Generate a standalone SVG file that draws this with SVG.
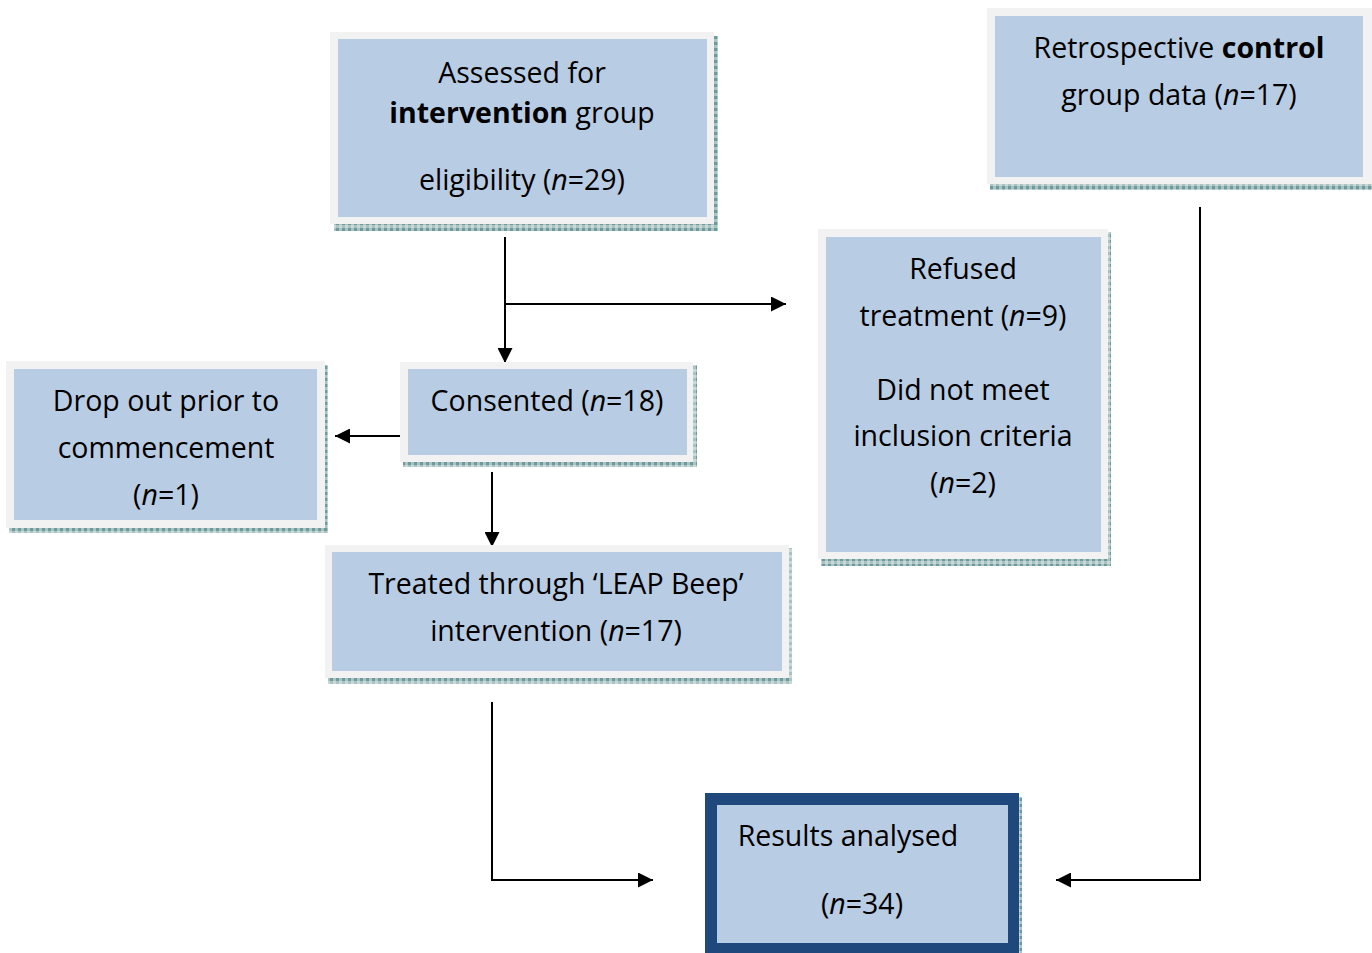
<svg xmlns="http://www.w3.org/2000/svg" width="1372" height="953" viewBox="0 0 1372 953">
<defs>
<pattern id="sh" width="6" height="6" patternUnits="userSpaceOnUse">
<rect width="6" height="6" fill="#a9c2c2"/>
<rect width="3" height="3" fill="#6f9a9c"/>
<rect x="3" y="3" width="3" height="3" fill="#c9d8d8"/>
</pattern>
<marker id="ah" viewBox="0 0 10 10" refX="10" refY="5" markerWidth="15" markerHeight="15" markerUnits="userSpaceOnUse" orient="auto">
<path d="M0,0 L10,5 L0,10 z" fill="#000"/>
</marker>
<style>
.sh{fill:url(#sh)}
.ob{fill:#f2f2f2}
.ib{fill:#b8cce4}
text{font-family:"Open Sans","Noto Sans","Liberation Sans",sans-serif;font-size:28.5px;fill:#000;text-anchor:middle}
.b{font-weight:bold}
.i{font-style:italic}
.c{fill:none;stroke:#000;stroke-width:2}
</style>
</defs>
<rect width="1372" height="953" fill="#fff"/>
<g id="connectors">
<line class="c" x1="505" y1="237" x2="505" y2="363" marker-end="url(#ah)"/>
<line class="c" x1="505" y1="304" x2="786" y2="304" marker-end="url(#ah)"/>
<line class="c" x1="404" y1="436" x2="335" y2="436" marker-end="url(#ah)"/>
<line class="c" x1="492" y1="472" x2="492" y2="547" marker-end="url(#ah)"/>
<polyline class="c" points="492,702 492,880 653,880" marker-end="url(#ah)"/>
<polyline class="c" points="1200,207 1200,880 1056,880" marker-end="url(#ah)"/>
</g>
<g id="assessed">
<rect class="sh" x="334" y="223" width="384" height="8"/>
<rect class="sh" x="713" y="36" width="5" height="195"/>
<rect class="ob" x="330" y="32" width="384" height="192"/>
<rect class="ib" x="338" y="39" width="369" height="178"/>
<text x="522" y="83">Assessed for</text>
<text x="522" y="123"><tspan class="b">intervention</tspan> group</text>
<text x="522" y="190">eligibility (<tspan class="i">n</tspan>=29)</text>
</g>
<g id="control">
<rect class="sh" x="990" y="183" width="382" height="7"/>
<rect class="ob" x="987" y="8" width="385" height="176"/>
<rect class="ib" x="995" y="16" width="368" height="161"/>
<text x="1179" y="58">Retrospective <tspan class="b">control</tspan></text>
<text x="1179" y="105">group data (<tspan class="i">n</tspan>=17)</text>
</g>
<g id="refused">
<rect class="sh" x="821" y="558" width="290" height="8"/>
<rect class="sh" x="1107" y="232" width="4" height="334"/>
<rect class="ob" x="818" y="229" width="290" height="330"/>
<rect class="ib" x="826" y="237" width="275" height="315"/>
<text x="963" y="279">Refused</text>
<text x="963" y="326">treatment (<tspan class="i">n</tspan>=9)</text>
<text x="963" y="400">Did not meet</text>
<text x="963" y="446">inclusion criteria</text>
<text x="963" y="493">(<tspan class="i">n</tspan>=2)</text>
</g>
<g id="dropout">
<rect class="sh" x="9" y="527" width="319" height="6"/>
<rect class="sh" x="324" y="365" width="4" height="168"/>
<rect class="ob" x="6" y="361" width="319" height="167"/>
<rect class="ib" x="14" y="369" width="303" height="151"/>
<text x="166" y="411">Drop out prior to</text>
<text x="166" y="458">commencement</text>
<text x="166" y="505">(<tspan class="i">n</tspan>=1)</text>
</g>
<g id="consented">
<rect class="sh" x="403" y="461" width="294" height="6"/>
<rect class="sh" x="692" y="365" width="5" height="102"/>
<rect class="ob" x="400" y="362" width="293" height="100"/>
<rect class="ib" x="408" y="369" width="279" height="86"/>
<text x="547" y="411">Consented (<tspan class="i">n</tspan>=18)</text>
</g>
<g id="treated">
<rect class="sh" x="328" y="677" width="464" height="7"/>
<rect class="sh" x="788" y="548" width="4" height="136"/>
<rect class="ob" x="325" y="545" width="464" height="133"/>
<rect class="ib" x="332" y="552" width="450" height="119"/>
<text x="556" y="594">Treated through ‘LEAP Beep’</text>
<text x="556" y="641">intervention (<tspan class="i">n</tspan>=17)</text>
</g>
<g id="results">
<rect class="sh" x="1018" y="797" width="4" height="156"/>
<rect x="705" y="793" width="314" height="160" fill="#1f497d"/>
<rect class="ib" x="717" y="805" width="291" height="138"/>
<text x="848" y="846">Results analysed</text>
<text x="862" y="914">(<tspan class="i">n</tspan>=34)</text>
</g>
</svg>
